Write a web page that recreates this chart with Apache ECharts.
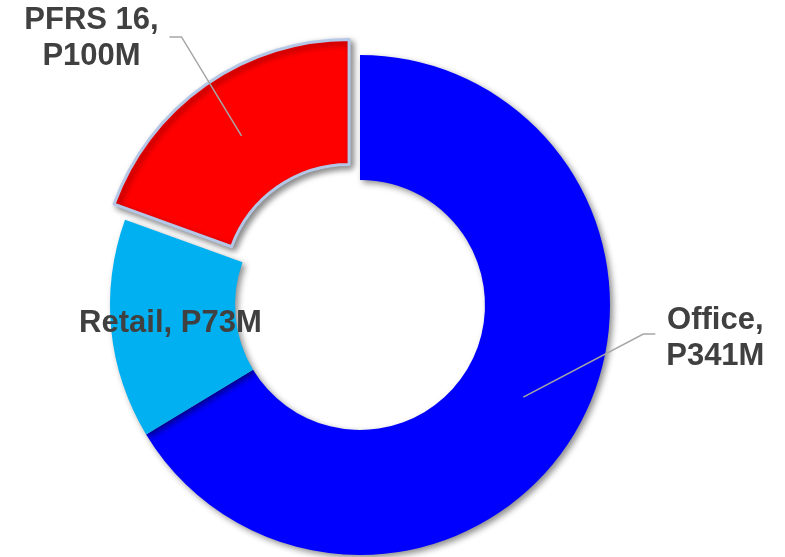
<!DOCTYPE html>
<html>
<head>
<meta charset="utf-8">
<script src="https://cdn.jsdelivr.net/npm/echarts@6/dist/echarts.min.js"></script>
<style>
  html, body { margin: 0; padding: 0; background: #fff; }
  #chart { width: 785px; height: 557px; }
</style>
</head>
<body>
<div id="chart"></div>
<script>
// slices, clockwise from 12 o'clock
const categories = ["Office", "Retail", "PFRS 16"];
const amounts = [341, 73, 100];
const sliceColors = ["#0000FF", "#00B0F0", "#FF0000"];
const explodedSlice = "PFRS 16";

const chart = echarts.init(document.getElementById("chart"));

const center = [360, 305];
const pullOut = 19;
const textColor = "#404040";
const fontFamily = "'Liberation Sans', Arial, sans-serif";

const ringData = categories.map((name, i) => {
  const item = {
    name: name,
    value: amounts[i],
    itemStyle: { color: sliceColors[i] },
    label: { show: name === "Retail" }
  };
  if (name === explodedSlice) {
    item.selected = true;
    item.itemStyle.borderColor = "#B4C7E7";
    item.itemStyle.borderWidth = 3;
    item.select = { itemStyle: { borderColor: "#B4C7E7", borderWidth: 3 } };
  }
  return item;
});

// invisible ring at mid radius, only used to anchor the outside labels
const anchorData = categories.map((name, i) => ({
  name: name,
  value: amounts[i],
  label: { show: name !== "Retail" },
  labelLine: { show: name !== "Retail" }
}));

// shift of the exploded slice, same as the pie's selectedOffset
function pullShift(idx) {
  if (categories[idx] !== explodedSlice) return [0, 0];
  const total = amounts.reduce((s, v) => s + v, 0);
  let before = 0;
  for (let k = 0; k < idx; k++) before += amounts[k];
  const mid = (90 - (before + amounts[idx] / 2) / total * 360) * Math.PI / 180;
  return [Math.cos(mid) * pullOut, -Math.sin(mid) * pullOut];
}

function placeLabel(p) {
  const pts = p.labelLinePoints;
  if (!pts) return {};
  const s = pullShift(p.dataIndex);
  const a = [pts[0][0] + s[0], pts[0][1] + s[1]];
  if (p.dataIndex === 0) {
    const elbow = [a[0] + 120, a[1] - 63];
    const end = [elbow[0] + 12, elbow[1]];
    return {
      x: end[0] + 60, y: end[1] + 4,
      align: "center", verticalAlign: "middle",
      labelLinePoints: [a, elbow, end]
    };
  }
  const elbow = [a[0] - 60, a[1] - 99];
  const end = [elbow[0] - 12, elbow[1]];
  return {
    x: end[0] - 78, y: end[1] + 2,
    align: "center", verticalAlign: "middle",
    labelLinePoints: [a, elbow, end]
  };
}

chart.setOption({
  animation: false,
  series: [
    {
      type: "pie",
      center: center,
      radius: [125, 250],
      startAngle: 90,
      selectedMode: "single",
      selectedOffset: pullOut,
      avoidLabelOverlap: false,
      itemStyle: {
        shadowBlur: 6,
        shadowColor: "rgba(0,0,0,0.45)",
        shadowOffsetX: 3,
        shadowOffsetY: 3
      },
      emphasis: { disabled: true },
      label: {
        position: "inside",
        formatter: "{b}, P{c}M",
        color: textColor,
        fontFamily: fontFamily,
        fontWeight: "bold",
        fontSize: 31
      },
      labelLine: { show: false },
      data: ringData,
      z: 2
    },
    {
      type: "pie",
      center: center,
      radius: [186, 187.5],
      startAngle: 90,
      silent: true,
      avoidLabelOverlap: false,
      itemStyle: { color: "rgba(0,0,0,0)" },
      emphasis: { disabled: true },
      label: {
        position: "outside",
        formatter: "{b},\nP{c}M",
        color: textColor,
        fontFamily: fontFamily,
        fontWeight: "bold",
        fontSize: 31,
        lineHeight: 36
      },
      labelLine: {
        show: true,
        lineStyle: { color: "#A6A6A6", width: 1.5 }
      },
      labelLayout: placeLabel,
      data: anchorData,
      z: 3
    }
  ]
});
</script>
</body>
</html>
